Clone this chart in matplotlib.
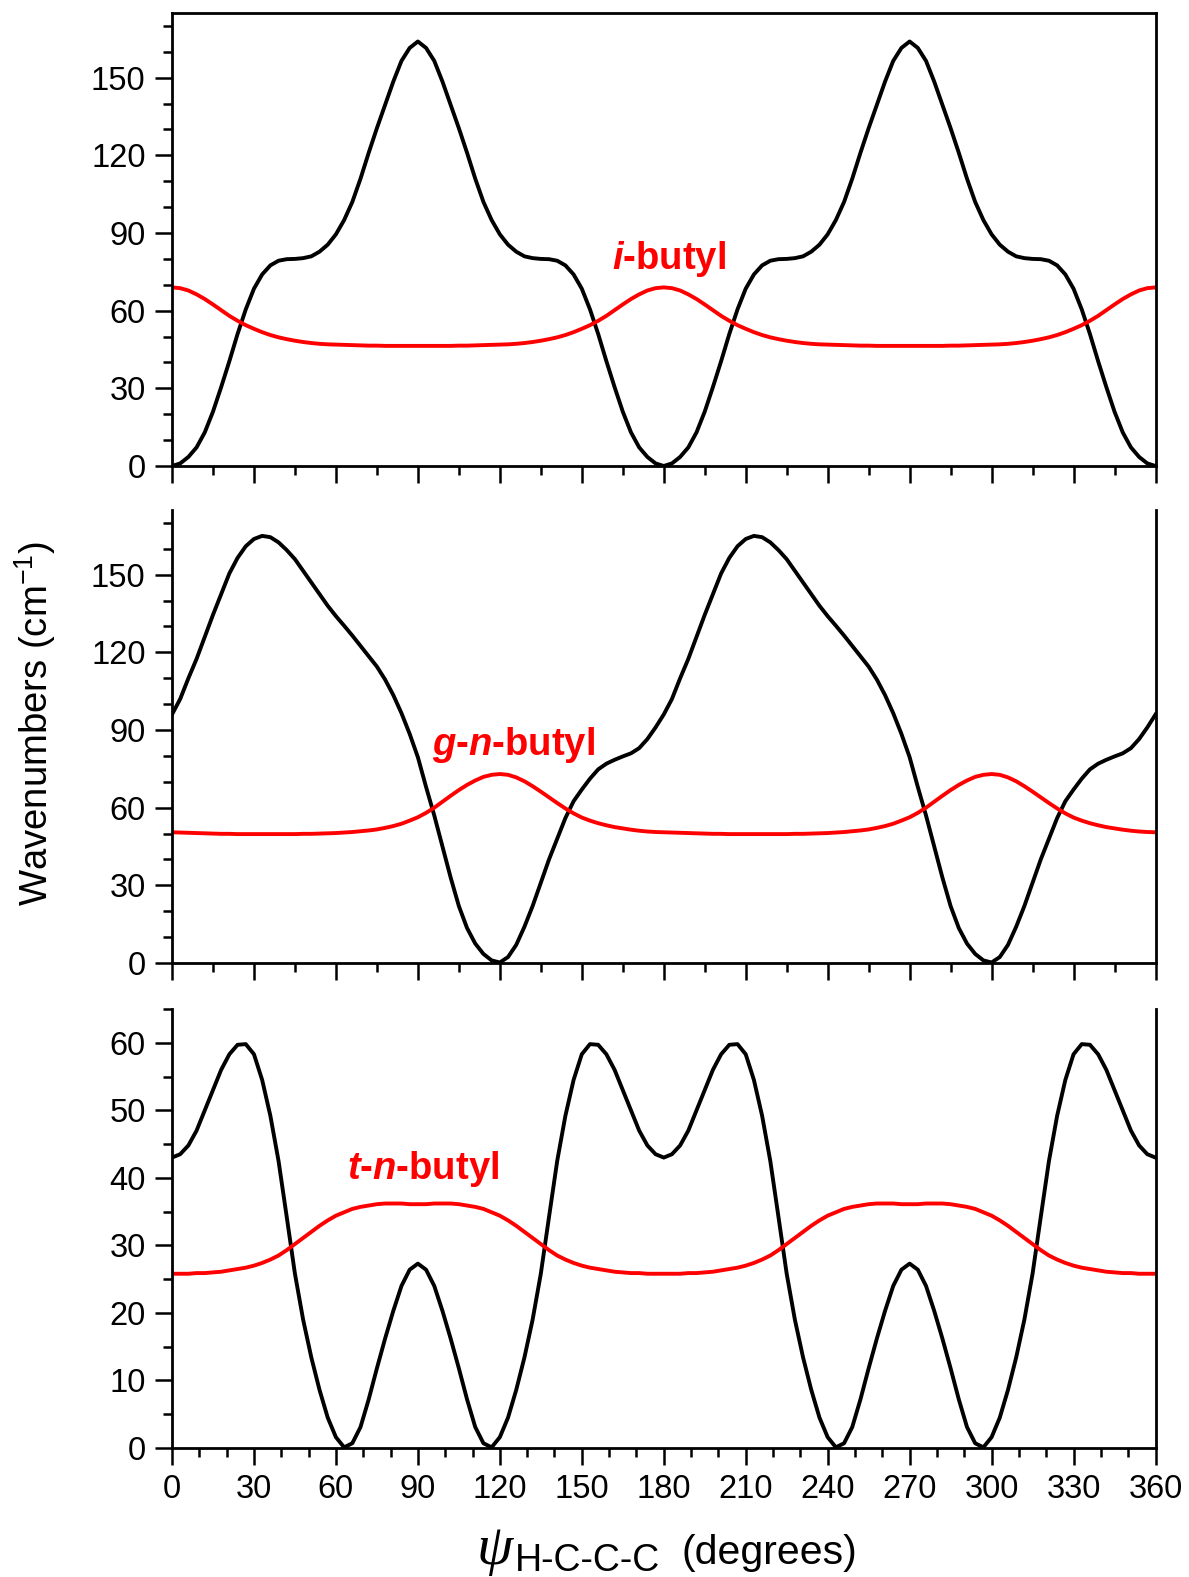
import numpy as np
import matplotlib.pyplot as plt
from matplotlib.ticker import MultipleLocator

plt.rcParams['font.family'] = 'Liberation Sans'
plt.rcParams['mathtext.fontset'] = 'custom'
plt.rcParams['mathtext.rm'] = 'Liberation Sans'
plt.rcParams['mathtext.it'] = 'Liberation Sans:italic:bold'
plt.rcParams['mathtext.bf'] = 'Liberation Sans:bold'

# torsion angle grid (degrees), 3 degree steps
angle = np.arange(0, 361, 3)

# i-butyl
ibu_black = [
    0, 1.0, 3.5, 7.2, 13, 21, 30.5, 40.5, 51, 60.5, 68.5, 74, 77.5, 79.3, 79.9, 80, 80.3, 81, 82.8, 85.5,
    89.5, 95, 102, 111, 121, 130.5, 139.5, 148.5, 156.5, 161.5, 164, 161.5, 156.5, 148.5, 139.5, 130.5, 121, 111, 102, 95,
    89.5, 85.5, 82.8, 81, 80.3, 80, 79.9, 79.3, 77.5, 74, 68.5, 60.5, 51, 40.5, 30.5, 21, 13, 7.2, 3.5, 1.0,
    0, 1.0, 3.5, 7.2, 13, 21, 30.5, 40.5, 51, 60.5, 68.5, 74, 77.5, 79.3, 79.9, 80, 80.3, 81, 82.8, 85.5,
    89.5, 95, 102, 111, 121, 130.5, 139.5, 148.5, 156.5, 161.5, 164, 161.5, 156.5, 148.5, 139.5, 130.5, 121, 111, 102, 95,
    89.5, 85.5, 82.8, 81, 80.3, 80, 79.9, 79.3, 77.5, 74, 68.5, 60.5, 51, 40.5, 30.5, 21, 13, 7.2, 3.5, 1.0,
    0]
ibu_red = [
    69, 68.7, 67.8, 66.3, 64.5, 62.4, 60.2, 58.0, 56.1, 54.4, 53.0, 51.7, 50.6, 49.7, 49.0, 48.4, 47.9, 47.5, 47.2, 47.0,
    46.9, 46.8, 46.7, 46.6, 46.5, 46.5, 46.4, 46.4, 46.4, 46.4, 46.4, 46.4, 46.4, 46.4, 46.4, 46.5, 46.5, 46.6, 46.7, 46.8,
    46.9, 47.0, 47.2, 47.5, 47.9, 48.4, 49.0, 49.7, 50.6, 51.7, 53.0, 54.4, 56.1, 58.0, 60.2, 62.4, 64.5, 66.3, 67.8, 68.7,
    69, 68.7, 67.8, 66.3, 64.5, 62.4, 60.2, 58.0, 56.1, 54.4, 53.0, 51.7, 50.6, 49.7, 49.0, 48.4, 47.9, 47.5, 47.2, 47.0,
    46.9, 46.8, 46.7, 46.6, 46.5, 46.5, 46.4, 46.4, 46.4, 46.4, 46.4, 46.4, 46.4, 46.4, 46.4, 46.5, 46.5, 46.6, 46.7, 46.8,
    46.9, 47.0, 47.2, 47.5, 47.9, 48.4, 49.0, 49.7, 50.6, 51.7, 53.0, 54.4, 56.1, 58.0, 60.2, 62.4, 64.5, 66.3, 67.8, 68.7,
    69]

# gauche n-butyl
gnb_black = [
    96, 102, 110, 117.5, 126, 134.5, 142.5, 150.5, 156.5, 161, 163.8, 165, 164.5, 162.5, 159.5, 156, 151.5, 147, 142.5, 138,
    134, 130.3, 126.5, 122.5, 118.5, 114.5, 109.5, 103.5, 96.5, 88.5, 79.5, 68, 57, 45, 33, 22, 13.5, 7.5, 3.5, 1.0,
    0.2, 2.3, 7, 14, 22, 31, 40, 48, 56, 62.5, 67, 71.2, 74.8, 77, 78.5, 79.8, 81, 83, 86.5, 91,
    96, 102, 110, 117.5, 126, 134.5, 142.5, 150.5, 156.5, 161, 163.8, 165, 164.5, 162.5, 159.5, 156, 151.5, 147, 142.5, 138,
    134, 130.3, 126.5, 122.5, 118.5, 114.5, 109.5, 103.5, 96.5, 88.5, 79.5, 68, 57, 45, 33, 22, 13.5, 7.5, 3.5, 1.0,
    0.2, 2.3, 7, 14, 22, 31, 40, 48, 56, 62.5, 67, 71.2, 74.8, 77, 78.5, 79.8, 81, 83, 86.5, 91,
    96]
gnb_red = [
    50.5, 50.4, 50.3, 50.2, 50.1, 50.0, 49.9, 49.9, 49.8, 49.8, 49.8, 49.8, 49.8, 49.8, 49.8, 49.8, 49.9, 49.9, 50.0, 50.1,
    50.2, 50.4, 50.6, 50.9, 51.2, 51.6, 52.2, 52.9, 53.8, 55.0, 56.3, 58.0, 60.0, 62.3, 64.6, 66.8, 68.8, 70.5, 71.9, 72.7,
    73.0, 72.7, 71.7, 70.2, 68.3, 66.2, 64.0, 61.8, 59.7, 57.8, 56.2, 55.0, 54.0, 53.2, 52.5, 52.0, 51.5, 51.1, 50.8, 50.6,
    50.5, 50.4, 50.3, 50.2, 50.1, 50.0, 49.9, 49.9, 49.8, 49.8, 49.8, 49.8, 49.8, 49.8, 49.8, 49.8, 49.9, 49.9, 50.0, 50.1,
    50.2, 50.4, 50.6, 50.9, 51.2, 51.6, 52.2, 52.9, 53.8, 55.0, 56.3, 58.0, 60.0, 62.3, 64.6, 66.8, 68.8, 70.5, 71.9, 72.7,
    73.0, 72.7, 71.7, 70.2, 68.3, 66.2, 64.0, 61.8, 59.7, 57.8, 56.2, 55.0, 54.0, 53.2, 52.5, 52.0, 51.5, 51.1, 50.8, 50.6,
    50.5]

# trans n-butyl
tnb_black = [
    43, 43.5, 44.8, 47, 50, 53, 56, 58.3, 59.7, 59.8, 58.3, 54.5, 49.2, 42.5, 34.2, 25.8, 19, 13.4, 8.6, 4.5,
    1.6, 0.1, 0.7, 3.1, 7.2, 11.8, 16.2, 20.3, 24.0, 26.4, 27.3, 26.4, 24.0, 20.3, 16.2, 11.8, 7.2, 3.1, 0.7, 0.1,
    1.6, 4.5, 8.6, 13.4, 19, 25.8, 34.2, 42.5, 49.2, 54.5, 58.3, 59.8, 59.7, 58.3, 56, 53, 50, 47, 44.8, 43.5,
    43, 43.5, 44.8, 47, 50, 53, 56, 58.3, 59.7, 59.8, 58.3, 54.5, 49.2, 42.5, 34.2, 25.8, 19, 13.4, 8.6, 4.5,
    1.6, 0.1, 0.7, 3.1, 7.2, 11.8, 16.2, 20.3, 24.0, 26.4, 27.3, 26.4, 24.0, 20.3, 16.2, 11.8, 7.2, 3.1, 0.7, 0.1,
    1.6, 4.5, 8.6, 13.4, 19, 25.8, 34.2, 42.5, 49.2, 54.5, 58.3, 59.8, 59.7, 58.3, 56, 53, 50, 47, 44.8, 43.5,
    43]
tnb_red = [
    25.8, 25.8, 25.8, 25.9, 25.9, 26.0, 26.1, 26.3, 26.5, 26.7, 27.0, 27.4, 27.9, 28.5, 29.3, 30.2, 31.1, 32.0, 32.9, 33.7,
    34.4, 34.9, 35.4, 35.7, 35.9, 36.1, 36.2, 36.2, 36.2, 36.1, 36.1, 36.1, 36.2, 36.2, 36.2, 36.1, 35.9, 35.7, 35.4, 34.9,
    34.4, 33.7, 32.9, 32.0, 31.1, 30.2, 29.3, 28.5, 27.9, 27.4, 27.0, 26.7, 26.5, 26.3, 26.1, 26.0, 25.9, 25.9, 25.8, 25.8,
    25.8, 25.8, 25.8, 25.9, 25.9, 26.0, 26.1, 26.3, 26.5, 26.7, 27.0, 27.4, 27.9, 28.5, 29.3, 30.2, 31.1, 32.0, 32.9, 33.7,
    34.4, 34.9, 35.4, 35.7, 35.9, 36.1, 36.2, 36.2, 36.2, 36.1, 36.1, 36.1, 36.2, 36.2, 36.2, 36.1, 35.9, 35.7, 35.4, 34.9,
    34.4, 33.7, 32.9, 32.0, 31.1, 30.2, 29.3, 28.5, 27.9, 27.4, 27.0, 26.7, 26.5, 26.3, 26.1, 26.0, 25.9, 25.9, 25.8, 25.8,
    25.8]

labels = [r'$\mathit{i}$-butyl', r'$\mathit{g}$-$\mathit{n}$-butyl', r'$\mathit{t}$-$\mathit{n}$-butyl']
label_pos = [(182, 76), (125, 80.3), (92, 39.8)]

W, H = 1189, 1577
fig = plt.figure(figsize=(W / 100, H / 100), dpi=100)


def box(top, bottom):
    return [172 / W, 1 - bottom / H, (1155.5 - 172) / W, (bottom - top) / H]


panels = [
    (box(13, 466), ibu_black, ibu_red, 175, 30, 10, 15),
    (box(510, 963), gnb_black, gnb_red, 175, 30, 10, 15),
    (box(1009, 1448), tnb_black, tnb_red, 65, 10, 5, 10),
]

for i, (rect, black, red, ytop, ymaj, ymin, xmin) in enumerate(panels):
    ax = fig.add_axes(rect)
    ax.plot(angle, black, color='black', lw=2.8, solid_joinstyle='round')
    ax.plot(angle, red, color='#ff0000', lw=2.8, solid_joinstyle='round')
    ax.set_xlim(0, 360)
    ax.set_ylim(0, ytop)
    ax.xaxis.set_major_locator(MultipleLocator(30))
    ax.xaxis.set_minor_locator(MultipleLocator(xmin))
    ax.yaxis.set_major_locator(MultipleLocator(ymaj))
    ax.yaxis.set_minor_locator(MultipleLocator(ymin))
    ax.tick_params(which='both', direction='out', width=1.8, top=False, right=False,
                   labelsize=23.5, pad=7)
    ax.tick_params(which='major', length=12)
    ax.tick_params(which='minor', length=6.5)
    for s in ax.spines.values():
        s.set_linewidth(2)
    if i > 0:
        ax.spines['top'].set_visible(False)
    if i < 2:
        ax.tick_params(labelbottom=False)
    tx, ty = label_pos[i]
    ax.text(tx, ty, labels[i], color='#ff0000', fontsize=27.5, fontweight='bold',
            ha='center', va='baseline')

fig.text(35 / W, 1 - 723 / H, r'Wavenumbers (cm$^{\mathregular{-1}}$)', rotation=90,
         ha='center', va='center', fontsize=27.5)

# x axis title built from pieces: psi, subscript, unit
fig.text(477 / W, 1 - 1564 / H, 'ψ', family='Liberation Serif', style='italic',
         fontsize=42, ha='left', va='baseline')
fig.text(515 / W, 1 - 1571 / H, 'H-C-C-C', fontsize=27, ha='left', va='baseline')
fig.text(681 / W, 1 - 1564 / H, '(degrees)', fontsize=29.5, ha='left', va='baseline')

fig.savefig('out.png', dpi=100)
